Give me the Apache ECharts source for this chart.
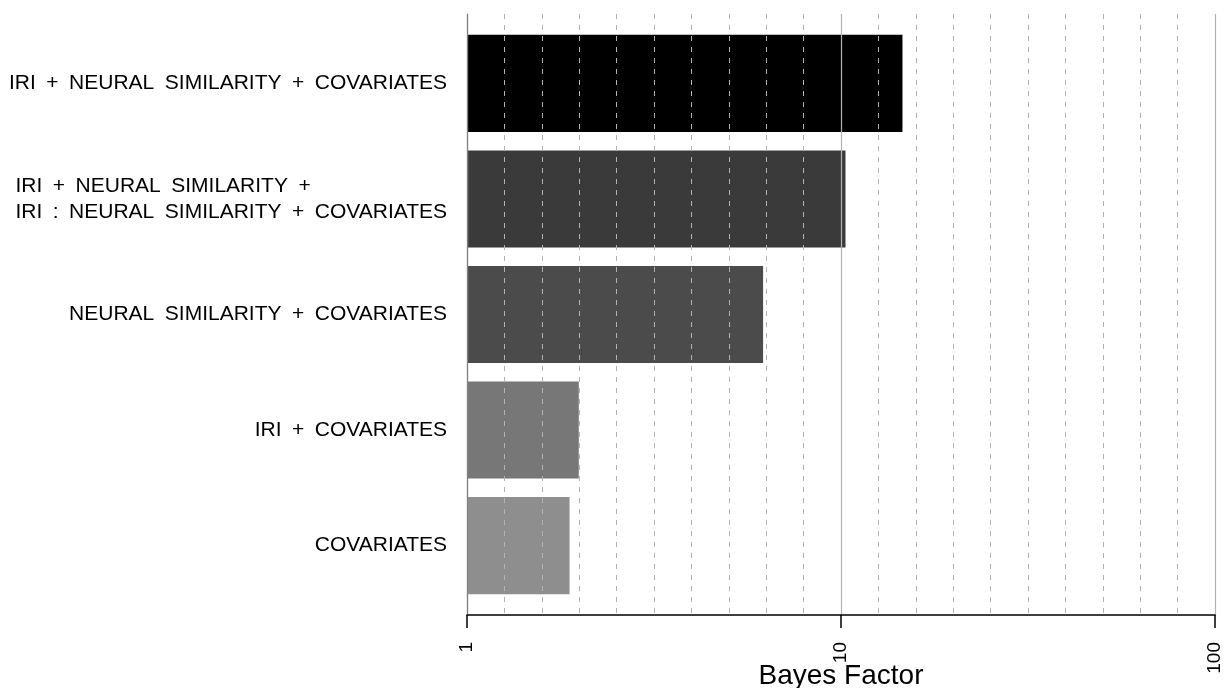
<!DOCTYPE html>
<html>
<head>
<meta charset="utf-8">
<script src="https://cdn.jsdelivr.net/npm/echarts@6/dist/echarts.min.js"></script>
<style>
  html, body { margin: 0; padding: 0; background: #ffffff; }
  #chart { width: 1224px; height: 688px; }
</style>
</head>
<body>
<div id="chart"></div>
<script>
// Model labels, top to bottom
const categories = [
  'IRI + NEURAL SIMILARITY + COVARIATES',
  'IRI + NEURAL SIMILARITY +\nIRI : NEURAL SIMILARITY + COVARIATES',
  'NEURAL SIMILARITY + COVARIATES',
  'IRI + COVARIATES',
  'COVARIATES'
];
// Bayes factor of each model
const bayesFactors = [14.6, 10.28, 6.19, 1.99, 1.88];
// Fill of each bar
const barColors = ['#000000', '#3a3a3a', '#4b4b4b', '#777777', '#8e8e8e'];
// Labelled ticks on the log axis
const tickLabels = ['1', '10', '100'];
// Range of the axis in log10 units and the step of the dashed guides
const logRange = [0, 2];
const guideStep = 0.1;

const FONT = 'Liberation Sans';

// Plot frame; the bars sit in an inner grid padded by 0.6 band at both ends
const frame = { left: 467, right: 9, top: 14, bottom: 73 };
const plotHeight = 688 - frame.top - frame.bottom;
const band = plotHeight / (categories.length + 0.2);
const pad = 0.1 * band;

// Wider word gaps for the model labels
const spaced = s => s.replace(/ /g, '\u2002');

const chart = echarts.init(document.getElementById('chart'), null, { renderer: 'canvas' });

chart.setOption({
  animation: false,
  backgroundColor: '#ffffff',
  textStyle: { fontFamily: FONT },
  grid: [
    { left: frame.left, right: frame.right, top: frame.top, bottom: frame.bottom,
      containLabel: false, outerBoundsMode: 'none' },
    { left: frame.left, right: frame.right, top: frame.top + pad, bottom: frame.bottom + pad,
      containLabel: false, outerBoundsMode: 'none' }
  ],
  xAxis: [
    {
      type: 'log', logBase: 10, gridIndex: 0, min: 1, max: 100, z: 3,
      position: 'bottom',
      axisLine: { show: true, lineStyle: { color: '#000000', width: 1.5 } },
      axisTick: { show: true, length: 13, lineStyle: { color: '#000000', width: 1.5 } },
      axisLabel: {
        rotate: 90, margin: 27, fontSize: 19, color: '#000000', fontFamily: FONT,
        formatter: v => tickLabels.find(t => Number(t) === Math.round(v)) || ''
      },
      splitLine: { show: true, lineStyle: { color: '#b3b3b3', width: 1.2 } },
      name: 'Bayes Factor', nameLocation: 'middle', nameGap: 47, nameMoveOverlap: false,
      nameTextStyle: { fontSize: 28, color: '#000000', fontFamily: FONT }
    },
    {
      type: 'value', gridIndex: 0, min: logRange[0], max: logRange[1], interval: guideStep, z: 3,
      position: 'top',
      axisLine: { show: false }, axisTick: { show: false }, axisLabel: { show: false },
      splitLine: {
        show: true,
        interval: (i, v) => Math.abs(v - Math.round(v)) > 1e-6,
        lineStyle: { type: [5, 6], color: '#b3b3b3', width: 1 }
      }
    },
    { type: 'log', logBase: 10, gridIndex: 1, min: 1, max: 100, show: false }
  ],
  yAxis: [
    {
      type: 'value', gridIndex: 0, min: 0, max: 1, z: 3,
      axisLine: { show: true, lineStyle: { color: '#7f7f7f', width: 1.2 } },
      axisTick: { show: false }, axisLabel: { show: false }, splitLine: { show: false }
    },
    {
      type: 'category', gridIndex: 1, inverse: true, data: categories,
      axisLine: { show: false }, axisTick: { show: false }, splitLine: { show: false },
      axisLabel: {
        margin: 20, fontSize: 21, color: '#000000', fontFamily: FONT, align: 'right',
        formatter: v => v.indexOf('\n') >= 0 ? '{m|' + spaced(v) + '}' : spaced(v),
        rich: { m: { fontSize: 21, lineHeight: 26, align: 'left', color: '#000000', fontFamily: FONT } }
      }
    }
  ],
  series: [
    {
      type: 'bar', xAxisIndex: 2, yAxisIndex: 1, z: 2,
      barWidth: '84%',
      data: bayesFactors.map((v, i) => ({ value: v, itemStyle: { color: barColors[i] } }))
    }
  ]
});
</script>
</body>
</html>
